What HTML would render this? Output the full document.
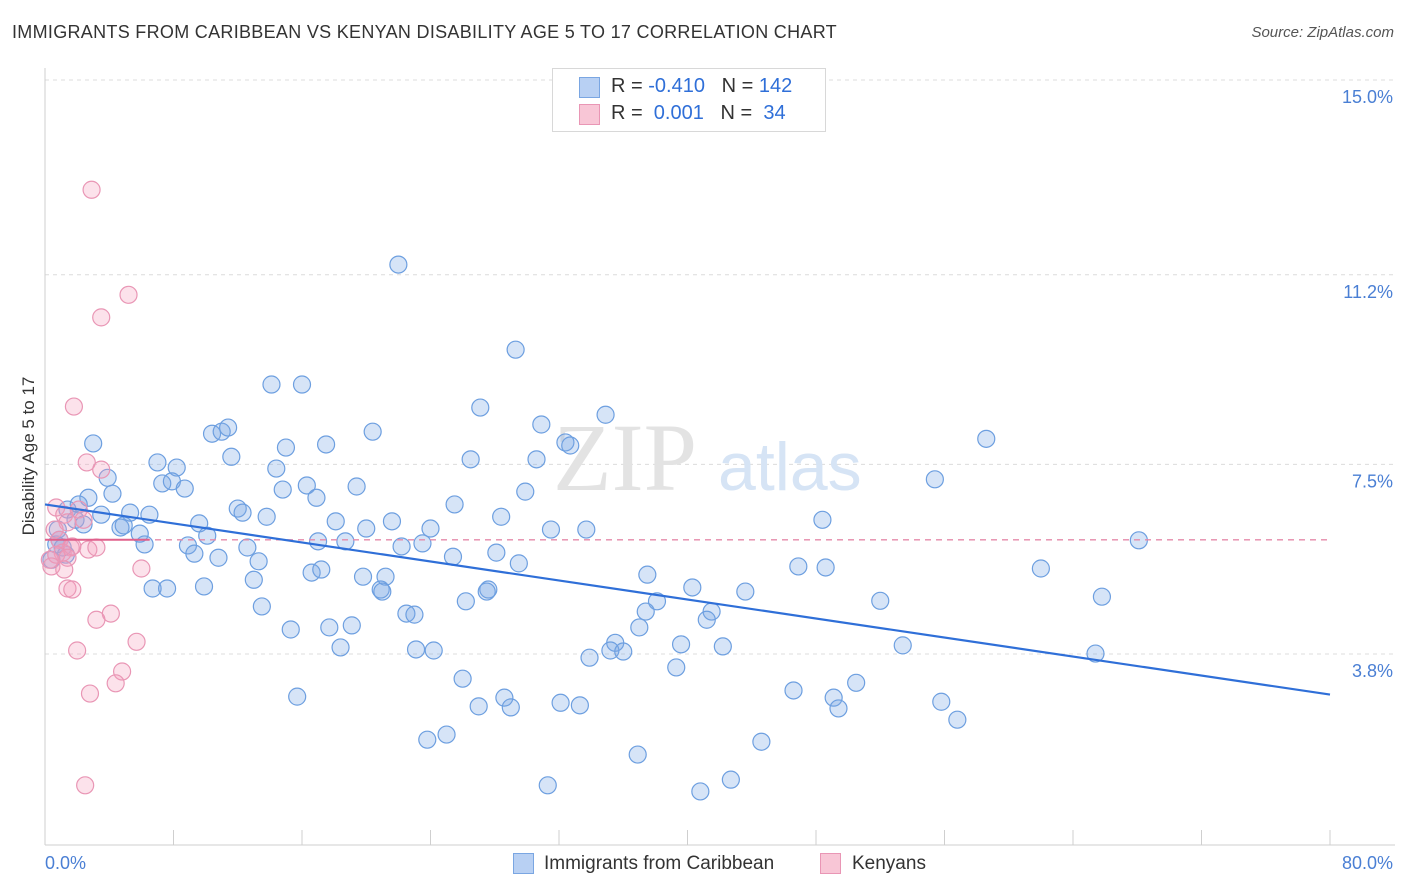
<!DOCTYPE html>
<html><head><meta charset="utf-8">
<style>
body{margin:0;background:#fff;font-family:"Liberation Sans",sans-serif;}
#wrap{position:relative;width:1406px;height:892px;overflow:hidden;}
.t{position:absolute;white-space:nowrap;}
</style></head>
<body>
<div id="wrap">
<div class="t" style="left:12px;top:22px;font-size:18px;letter-spacing:0.3px;color:#333;">IMMIGRANTS FROM CARIBBEAN VS KENYAN DISABILITY AGE 5 TO 17 CORRELATION CHART</div>
<div class="t" style="right:12px;top:24px;font-size:15px;color:#555;font-style:italic;">Source: ZipAtlas.com</div>
<svg id="chart" width="1406" height="892" style="position:absolute;left:0;top:0"></svg>
</div>
<script>
const yTicks=[15.0,11.2,7.5,3.8];
const xTickLabels=["0.0%","80.0%"];
const blueX=[22.0,29.3,14.1,16.0,27.1,34.9,3.0,10.4,11.0,11.4,20.4,17.5,15.0,30.9,32.4,32.7,58.6,11.6,7.0,8.2,14.4,26.5,30.6,3.9,7.3,7.9,8.7,16.3,19.4,14.8,16.9,4.2,2.7,29.9,55.4,25.5,12.0,12.3,6.5,13.8,18.1,21.6,1.4,2.1,3.5,5.3,1.9,2.4,4.7,4.9,5.9,6.2,9.6,10.1,20.0,24.0,28.4,31.5,33.7,48.4,17.0,18.7,22.2,23.5,8.9,9.3,10.8,12.6,13.3,25.4,28.1,68.1,16.6,17.2,19.8,21.2,20.9,21.0,13.0,6.7,7.6,9.9,29.5,27.6,27.5,26.2,37.5,40.3,43.6,46.9,48.6,62.0,65.8,52.0,38.1,37.4,13.5,22.5,23.0,41.5,41.2,37.0,15.3,17.7,19.1,18.4,23.1,24.2,35.5,35.2,36.0,33.9,39.6,42.2,53.4,65.4,26.0,39.3,15.7,28.6,29.0,27.0,32.1,33.3,46.6,49.1,49.4,50.5,55.8,56.8,23.8,25.0,36.9,44.6,31.3,40.8,42.7,0.8,0.7,1.1,1.3,0.4,0.9];
const blueY=[11.73,10.07,9.39,9.39,8.94,8.80,8.24,8.43,8.47,8.55,8.47,8.22,8.16,8.61,8.26,8.20,8.33,7.98,7.87,7.77,7.75,7.93,7.93,7.57,7.46,7.50,7.36,7.42,7.40,7.34,7.18,7.26,7.18,7.30,7.54,7.05,6.97,6.89,6.85,6.81,6.72,6.72,6.95,7.05,6.85,6.89,6.75,6.66,6.60,6.64,6.48,6.27,6.68,6.44,6.58,6.58,6.81,6.56,6.56,6.75,6.33,6.33,6.23,6.29,6.25,6.09,6.01,6.21,5.94,6.03,6.11,6.35,5.72,5.78,5.64,5.64,5.39,5.35,5.58,5.41,5.41,5.45,5.90,5.39,5.35,5.16,5.68,5.43,5.35,5.84,5.82,5.80,5.25,5.17,5.16,4.96,5.06,4.92,4.90,4.96,4.80,4.65,4.61,4.65,4.69,4.26,4.22,4.20,4.35,4.20,4.18,4.06,4.32,4.28,4.30,4.14,3.65,3.87,3.30,3.28,3.09,3.11,3.18,3.13,3.42,3.28,3.07,3.57,3.20,2.85,2.46,2.56,2.17,2.42,1.57,1.45,1.68,6.56,6.27,6.21,6.07,5.97,6.36];
const pinkX=[2.9,5.2,3.5,1.8,2.6,3.5,0.7,1.2,2.1,2.4,1.4,0.6,0.9,1.6,1.1,0.3,0.7,0.4,2.7,3.2,1.7,1.4,1.2,6.0,1.4,1.7,4.1,3.2,5.7,2.0,4.8,4.4,2.8,2.5];
const pinkY=[13.19,11.14,10.70,8.96,7.87,7.73,6.99,6.85,6.95,6.75,6.70,6.56,6.36,6.21,6.11,5.97,6.07,5.84,6.17,6.21,6.23,6.01,5.78,5.80,5.41,5.39,4.92,4.80,4.37,4.20,3.79,3.56,3.36,1.57];
const blueLine=[7.05,3.34];
const pinkLine=[6.36,6.36];

const X0=45,X1=1330;
function sx(v){return X0+(v/80)*(X1-X0);}
function sy(v){return 97+(15-v)*51.25;}
const svg=document.getElementById('chart');
const NS='http://www.w3.org/2000/svg';
function mk(tag,attrs,parent){const e=document.createElementNS(NS,tag);for(const k in attrs)e.setAttribute(k,attrs[k]);(parent||svg).appendChild(e);return e;}

yTicks.forEach(t=>{
  const g=mk('line',{x1:45,x2:1395,y1:sy(t)-17,y2:sy(t)-17,stroke:'#dcdcdc','stroke-dasharray':'4,4'});
  
  
  const l=mk('text',{x:1393,y:sy(t)+6,'text-anchor':'end','font-size':'18',fill:'#4a7fd4','font-family':'Liberation Sans, sans-serif'});
  l.textContent=t.toFixed(1)+'%';
  
  
});
const ya=mk('line',{x1:45,x2:45,y1:68,y2:845,stroke:'#cfcfcf'});


const xa=mk('line',{x1:45,x2:1395,y1:845,y2:845,stroke:'#cfcfcf'});


for(let i=0;i<=10;i++){
  const tk=mk('line',{x1:sx(i*8),x2:sx(i*8),y1:830,y2:845,stroke:'#cfcfcf'});
  
  
}
[[0,'start',45],[80,'end',1393]].forEach((d,i)=>{
  const l=mk('text',{x:d[2],y:869,'text-anchor':d[1],'font-size':'18',fill:'#4a7fd4','font-family':'Liberation Sans, sans-serif'});
  l.textContent=xTickLabels[i];
  
  
});
const yt=mk('text',{x:34,y:456,'text-anchor':'middle','font-size':'17',fill:'#333',transform:'rotate(-90 34 456)','font-family':'Liberation Sans, sans-serif'});
yt.textContent='Disability Age 5 to 17';


const wm=mk('text',{x:553,y:490,'font-size':'96',fill:'#e3e3e3','font-family':'Liberation Serif, serif'});
wm.textContent='ZIP';


const wm2=mk('text',{x:718,y:490,'font-size':'68',fill:'#d6e4f5','font-family':'Liberation Sans, sans-serif'});
wm2.textContent='atlas';


blueX.forEach((v,i)=>{
  const c=mk('circle',{cx:sx(v),cy:sy(blueY[i]),r:8.5,fill:'rgba(120,165,230,0.3)',stroke:'#6d9fe0','stroke-width':1.2});
  
  
});
pinkX.forEach((v,i)=>{
  const c=mk('circle',{cx:sx(v),cy:sy(pinkY[i]),r:8.5,fill:'rgba(245,160,190,0.3)',stroke:'#e996b5','stroke-width':1.2});
  
  
});
const pd=mk('line',{x1:sx(0),x2:sx(80),y1:sy(pinkLine[0]),y2:sy(pinkLine[1]),stroke:'#e58aaa','stroke-width':1.3,'stroke-dasharray':'6,5'});


const ps=mk('line',{x1:sx(0),x2:sx(6.5),y1:sy(pinkLine[0]),y2:sy(pinkLine[0]),stroke:'#e0608c','stroke-width':2});


const bl=mk('line',{x1:sx(0),x2:sx(80),y1:sy(blueLine[0]),y2:sy(blueLine[1]),stroke:'#2f6fd8','stroke-width':2.2});


</script>
<div class="t" style="left:552px;top:68px;width:272px;height:62px;border:1px solid #d8d8d8;background:#fff;">
 <div class="t" style="left:26px;top:8px;width:19px;height:19px;background:#b8d0f3;border:1px solid #7aa6e2;"></div>
 <div class="t" style="left:58px;top:6px;font-size:20px;color:#333;">R = <span style="color:#2f6fd8">-0.410</span>&nbsp;&nbsp;&nbsp;N = <span style="color:#2f6fd8">142</span></div>
 <div class="t" style="left:26px;top:35px;width:19px;height:19px;background:#f8c6d6;border:1px solid #e996b5;"></div>
 <div class="t" style="left:58px;top:33px;font-size:20px;color:#333;">R = &nbsp;<span style="color:#2f6fd8">0.001</span>&nbsp;&nbsp;&nbsp;N = &nbsp;<span style="color:#2f6fd8">34</span></div>
</div>
<div class="t" style="left:513px;top:853px;width:19px;height:19px;background:#b8d0f3;border:1px solid #7aa6e2;"></div>
<div class="t" style="left:544px;top:853px;font-size:19px;color:#333;">Immigrants from Caribbean</div>
<div class="t" style="left:820px;top:853px;width:19px;height:19px;background:#f8c6d6;border:1px solid #e996b5;"></div>
<div class="t" style="left:852px;top:853px;font-size:19px;color:#333;">Kenyans</div>
</body></html>
